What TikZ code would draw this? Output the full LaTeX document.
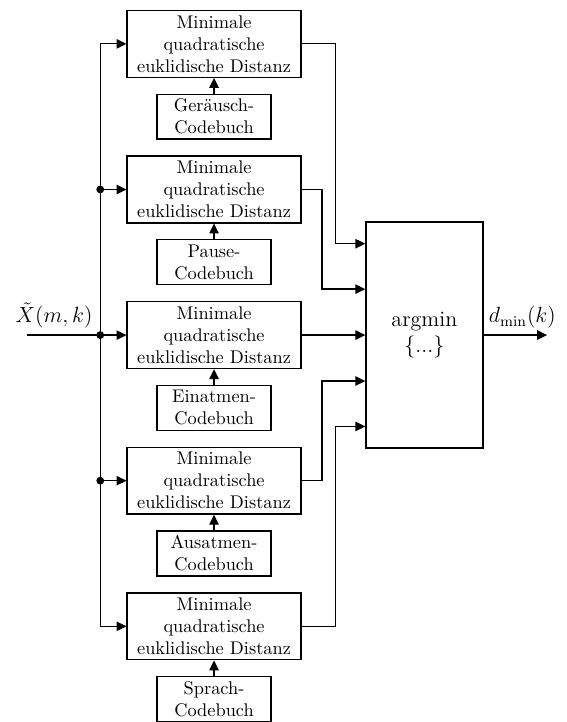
\documentclass[tikz,border=0pt]{standalone}
\usetikzlibrary{arrows.meta,calc,positioning}
\tikzset{
  dist box/.style={draw,line width=0.7pt,align=center,minimum width=3.33cm,minimum height=1.28cm,inner sep=1pt},
  code box/.style={draw,line width=0.7pt,align=center,minimum width=2.18cm,minimum height=0.86cm,inner sep=1pt},
  arg box/.style={draw,line width=0.7pt,align=center,minimum width=2.24cm,minimum height=4.33cm,font=\large},
  sig edge/.style={-{Triangle[length=1.9mm,width=1.8mm]},line width=0.7pt},
  bus dot/.style={circle,fill,inner sep=0pt,minimum size=1.5mm},
}

\begin{document}
\begin{tikzpicture}[x=1cm,y=1cm]
  \useasboundingbox (0,0) rectangle (10.86,-13.83);
  % Distanzbloecke mit Codebuechern
  \node[dist box] (d1) at (4.10,-0.84) {Minimale\\quadratische\\euklidische Distanz};
  \node[code box,below=0.30cm of d1] (c1) {Geräusch-\\Codebuch};
  \node[dist box,below=0.30cm of c1] (d2) {Minimale\\quadratische\\euklidische Distanz};
  \node[code box,below=0.30cm of d2] (c2) {Pause-\\Codebuch};
  \node[dist box,below=0.30cm of c2] (d3) {Minimale\\quadratische\\euklidische Distanz};
  \node[code box,below=0.30cm of d3] (c3) {Einatmen-\\Codebuch};
  \node[dist box,below=0.30cm of c3] (d4) {Minimale\\quadratische\\euklidische Distanz};
  \node[code box,below=0.30cm of d4] (c4) {Ausatmen-\\Codebuch};
  \node[dist box,below=0.30cm of c4] (d5) {Minimale\\quadratische\\euklidische Distanz};
  \node[code box,below=0.30cm of d5] (c5) {Sprach-\\Codebuch};
  \node[arg box] (am) at (8.13,0 |- d3) {argmin\\$\{...\}$};

  \coordinate (in) at (0.52,0 |- d3);
  \coordinate (bus) at (1.92,0 |- d3);
  \coordinate (r1) at (6.42,0);
  \coordinate (r2) at (6.17,0);
  \coordinate (out) at (10.48,0 |- d3);
  \coordinate (p1) at ($(am.west)+(0,1.75)$);
  \coordinate (p2) at ($(am.west)+(0,0.88)$);
  \coordinate (p4) at ($(am.west)-(0,0.88)$);
  \coordinate (p5) at ($(am.west)-(0,1.75)$);

  % Eingang und Verteilung
  \draw[sig edge] (in) -- (d3.west) node[above,pos=0.27,font=\large] (xlab) {$\tilde{X}(m,k)$};
  \draw[sig edge] (bus) |- (d1.west);
  \draw[sig edge] (bus) |- (d5.west);
  \draw[sig edge] (bus |- d2.west) -- (d2.west);
  \draw[sig edge] (bus |- d4.west) -- (d4.west);
  \foreach \k in {2,3,4}
    \node[bus dot] (dot\k) at (bus |- d\k.west) {};

  % Codebuecher
  \foreach \k in {1,...,5}
    \draw[sig edge] (c\k) -- (d\k);

  % zum argmin
  \draw[sig edge] (d1.east) -| (r1 |- p1) -- (p1);
  \draw[sig edge] (d2.east) -| (r2 |- p2) -- (p2);
  \draw[sig edge] (d3.east) -- (am.west);
  \draw[sig edge] (d4.east) -| (r2 |- p4) -- (p4);
  \draw[sig edge] (d5.east) -| (r1 |- p5) -- (p5);

  \draw[sig edge] (am.east) -- (out) node[above,pos=0.61,font=\large] (dlab) {$d_{\min}(k)$};
\end{tikzpicture}
\end{document}
